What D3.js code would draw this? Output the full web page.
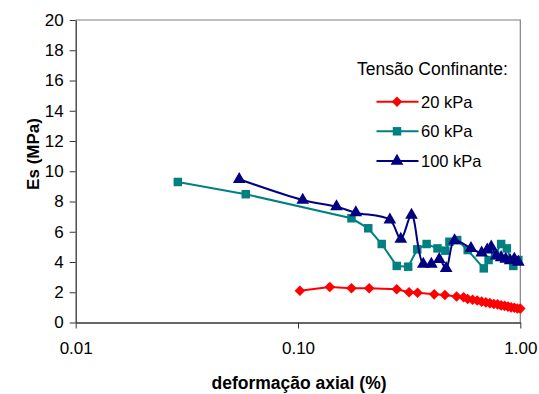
<!DOCTYPE html>
<html>
<head>
<meta charset="utf-8">
<script src="https://cdn.jsdelivr.net/npm/d3@7"></script>
<style>
  body { margin: 0; background: #fff; }
  svg { display: block; font-family: Arial, "Liberation Sans", sans-serif; }
</style>
</head>
<body>
<div id="chart"></div>
<script>
// data
var xTicks = [0.01, 0.1, 1];
var yTicks = [0, 2, 4, 6, 8, 10, 12, 14, 16, 18, 20];

var x20 = [0.102, 0.139, 0.174, 0.209, 0.278, 0.316, 0.345, 0.41, 0.458, 0.517, 0.556, 0.58, 0.61, 0.64, 0.67, 0.70, 0.73, 0.76, 0.79, 0.82, 0.85, 0.88, 0.91, 0.94, 0.97, 1.0];
var y20 = [2.1, 2.35, 2.26, 2.26, 2.2, 2.0, 1.97, 1.86, 1.82, 1.72, 1.67, 1.55, 1.5, 1.45, 1.38, 1.33, 1.28, 1.22, 1.2, 1.13, 1.1, 1.05, 1.0, 0.97, 0.93, 0.92];

var x60 = [0.0288, 0.0582, 0.174, 0.207, 0.238, 0.278, 0.313, 0.344, 0.379, 0.424, 0.46, 0.48, 0.52, 0.58, 0.685, 0.72, 0.77, 0.82, 0.87, 0.93, 0.98];
var y60 = [9.29, 8.48, 6.89, 6.23, 5.19, 3.74, 3.69, 4.84, 5.19, 4.9, 4.75, 5.34, 5.45, 4.79, 3.58, 4.13, 4.46, 5.19, 4.9, 3.74, 4.13];

var x100 = [0.0544, 0.105, 0.149, 0.182, 0.259, 0.29, 0.324, 0.366, 0.398, 0.432, 0.464, 0.506, 0.6, 0.67, 0.71, 0.74, 0.78, 0.82, 0.86, 0.9, 0.94, 0.98];
var y100 = [9.47, 8.1, 7.66, 7.26, 6.78, 5.52, 7.1, 3.87, 3.87, 4.18, 3.58, 5.41, 4.9, 4.6, 4.8, 5.0, 4.4, 4.3, 4.2, 4.1, 4.2, 4.0];

var seriesNames = ["20 kPa", "60 kPa", "100 kPa"];
var legendTitle = "Tensão Confinante:";

var width = 539, height = 394;
var plotLeft = 75.7, plotRight = 520.3, plotTop = 20, plotBottom = 322.5;
var fontFam = "Arial, 'Liberation Sans', sans-serif";

var svg = d3.select("#chart").append("svg")
    .attr("width", width)
    .attr("height", height);

var x = d3.scaleLog().domain([0.01, 1]).range([plotLeft, plotRight]);
var y = d3.scaleLinear().domain([0, 20]).range([plotBottom, plotTop]);

// plot area border (top and right)
svg.append("path")
    .attr("d", "M" + plotLeft + "," + plotTop + "H" + plotRight + "V" + plotBottom)
    .attr("fill", "none")
    .attr("stroke", "#808080")
    .attr("stroke-width", 1.2);

// y axis
var yAxis = svg.append("g")
    .attr("transform", "translate(" + plotLeft + ",0)")
    .call(d3.axisLeft(y).tickValues(yTicks).tickSize(6).tickSizeOuter(0).tickPadding(6));
yAxis.select(".domain").attr("stroke", "#333").attr("stroke-width", 1.3);
yAxis.selectAll(".tick line").attr("stroke", "#333");
yAxis.selectAll("text").attr("font-size", 17).attr("fill", "#000")
    .attr("font-family", fontFam);

// x axis
var xAxis = svg.append("g")
    .attr("transform", "translate(0," + plotBottom + ")")
    .call(d3.axisBottom(x).tickValues(xTicks).tickFormat(d3.format(".2f")).tickSize(6).tickSizeOuter(0).tickPadding(13));
xAxis.select(".domain").attr("stroke", "#333").attr("stroke-width", 1.3);
xAxis.selectAll(".tick line").attr("stroke", "#333");
xAxis.selectAll("text").attr("font-size", 17).attr("fill", "#000")
    .attr("font-family", fontFam);

// axis titles
svg.append("text")
    .attr("x", 299)
    .attr("y", 389)
    .attr("text-anchor", "middle")
    .attr("font-size", 17.5)
    .attr("font-weight", "bold")
    .text("deformação axial (%)");

svg.append("text")
    .attr("transform", "translate(39,154) rotate(-90)")
    .attr("text-anchor", "middle")
    .attr("font-size", 17)
    .attr("font-weight", "bold")
    .text("Es (MPa)");

var series = [
    { name: seriesNames[0], xs: x20, ys: y20, color: "#ff0000", symbol: d3.symbolSquare, rot: 45, size: 56, curve: d3.curveLinear },
    { name: seriesNames[1], xs: x60, ys: y60, color: "#008080", symbol: d3.symbolSquare, rot: 0, size: 72, curve: d3.curveLinear },
    { name: seriesNames[2], xs: x100, ys: y100, color: "#000080", symbol: d3.symbolTriangle, rot: 0, size: 70, curve: d3.curveCatmullRom.alpha(0.5) }
];

series.forEach(function (s) {
    var pts = s.xs.map(function (d, i) { return [d, s.ys[i]]; });
    var line = d3.line()
        .x(function (d) { return x(d[0]); })
        .y(function (d) { return y(d[1]); })
        .curve(s.curve);
    svg.append("path")
        .datum(pts)
        .attr("d", line)
        .attr("fill", "none")
        .attr("stroke", s.color)
        .attr("stroke-width", 2);
    svg.selectAll(null)
        .data(pts)
        .enter()
        .append("path")
        .attr("transform", function (d) { return "translate(" + x(d[0]) + "," + y(d[1]) + ") rotate(" + s.rot + ")"; })
        .attr("d", d3.symbol().type(s.symbol).size(s.size))
        .attr("fill", s.color);
});

// legend
svg.append("text")
    .attr("x", 357)
    .attr("y", 75)
    .attr("font-size", 17.5)
    .text(legendTitle);

var legendY = [101.7, 131.3, 161];
series.forEach(function (s, i) {
    var ly = legendY[i];
    svg.append("line")
        .attr("x1", 376.5).attr("x2", 418.5)
        .attr("y1", ly).attr("y2", ly)
        .attr("stroke", s.color)
        .attr("stroke-width", 2);
    svg.append("path")
        .attr("transform", "translate(397," + ly + ") rotate(" + s.rot + ")")
        .attr("d", d3.symbol().type(s.symbol).size(s.size))
        .attr("fill", s.color);
    svg.append("text")
        .attr("x", 421)
        .attr("y", ly + 6)
        .attr("font-size", 16.5)
        .text(s.name);
});
</script>
</body>
</html>
